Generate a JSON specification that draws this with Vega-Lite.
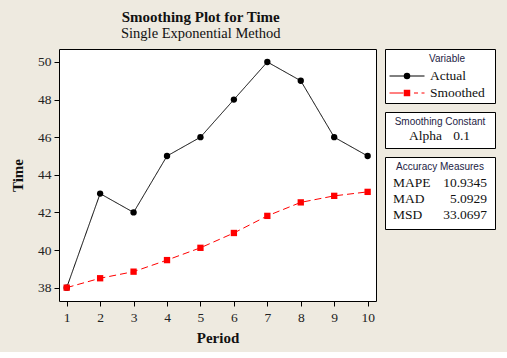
{
  "$schema": "https://vega.github.io/schema/vega-lite/v6.json",
  "background": "#EEEAE0",
  "padding": {"left": 10, "top": 10, "right": 14, "bottom": 6},
  "title": {
    "text": "Smoothing Plot for Time",
    "subtitle": "Single Exponential Method",
    "font": "Liberation Serif",
    "fontSize": 15,
    "fontWeight": "bold",
    "color": "#111111",
    "subtitleFont": "Liberation Serif",
    "subtitleFontSize": 14.5,
    "subtitleFontWeight": "normal",
    "subtitleColor": "#111111",
    "subtitlePadding": 2,
    "anchor": "middle",
    "frame": "bounds",
    "dx": -52,
    "offset": 8
  },
  "config": {
    "view": {"stroke": "black", "strokeWidth": 1, "fill": "white"},
    "axis": {
      "domain": false,
      "grid": false,
      "ticks": true,
      "tickColor": "black",
      "tickSize": 5,
      "labelFont": "Liberation Serif",
      "labelFontSize": 13.5,
      "labelColor": "#222222",
      "labelPadding": 3,
      "titleFont": "Liberation Serif",
      "titleFontSize": 15,
      "titleFontWeight": "bold",
      "titleColor": "#111111"
    }
  },
  "datasets": {
    "series": [
      {"Period": 1, "Variable": "Actual", "Time": 38},
      {"Period": 2, "Variable": "Actual", "Time": 43},
      {"Period": 3, "Variable": "Actual", "Time": 42},
      {"Period": 4, "Variable": "Actual", "Time": 45},
      {"Period": 5, "Variable": "Actual", "Time": 46},
      {"Period": 6, "Variable": "Actual", "Time": 48},
      {"Period": 7, "Variable": "Actual", "Time": 50},
      {"Period": 8, "Variable": "Actual", "Time": 49},
      {"Period": 9, "Variable": "Actual", "Time": 46},
      {"Period": 10, "Variable": "Actual", "Time": 45},
      {"Period": 1, "Variable": "Smoothed", "Time": 38.0},
      {"Period": 2, "Variable": "Smoothed", "Time": 38.5},
      {"Period": 3, "Variable": "Smoothed", "Time": 38.85},
      {"Period": 4, "Variable": "Smoothed", "Time": 39.465},
      {"Period": 5, "Variable": "Smoothed", "Time": 40.1185},
      {"Period": 6, "Variable": "Smoothed", "Time": 40.9067},
      {"Period": 7, "Variable": "Smoothed", "Time": 41.816},
      {"Period": 8, "Variable": "Smoothed", "Time": 42.5344},
      {"Period": 9, "Variable": "Smoothed", "Time": 42.881},
      {"Period": 10, "Variable": "Smoothed", "Time": 43.0929}
    ],
    "legend": [
      {"row": "Variable", "col": "title", "text": "Variable"},
      {"row": "Actual", "col": "label", "text": "Actual"},
      {"row": "Smoothed", "col": "label", "text": "Smoothed"},
      {"row": "Actual", "col": "sym", "series": "Actual"},
      {"row": "Smoothed", "col": "sym", "series": "Smoothed"}
    ],
    "smoothing": [
      {"row": "title", "col": "title", "text": "Smoothing Constant"},
      {"row": "Alpha", "col": "label", "text": "Alpha"},
      {"row": "Alpha", "col": "value", "text": "0.1"}
    ],
    "accuracy": [
      {"row": "title", "col": "title", "text": "Accuracy Measures"},
      {"row": "MAPE", "col": "label", "text": "MAPE"},
      {"row": "MAPE", "col": "value", "text": "10.9345"},
      {"row": "MAD", "col": "label", "text": "MAD"},
      {"row": "MAD", "col": "value", "text": "5.0929"},
      {"row": "MSD", "col": "label", "text": "MSD"},
      {"row": "MSD", "col": "value", "text": "33.0697"}
    ]
  },
  "spacing": 7,
  "resolve": {
    "scale": {"x": "independent", "y": "independent", "color": "independent", "shape": "independent", "strokeDash": "independent", "size": "independent", "fill": "independent", "stroke": "independent"}
  },
  "hconcat": [
    {
      "width": 317,
      "height": 252,
      "data": {"name": "series"},
      "encoding": {
        "x": {
          "field": "Period",
          "type": "quantitative",
          "scale": {"domain": [0.77, 10.25], "nice": false, "zero": false},
          "axis": {"values": [1, 2, 3, 4, 5, 6, 7, 8, 9, 10], "title": "Period", "titlePadding": 7, "labelPadding": 4}
        },
        "y": {
          "field": "Time",
          "type": "quantitative",
          "scale": {"domain": [37.29, 50.69], "nice": false, "zero": false},
          "axis": {"values": [38, 40, 42, 44, 46, 48, 50], "title": "Time", "titlePadding": 12}
        },
        "color": {
          "field": "Variable",
          "type": "nominal",
          "scale": {"domain": ["Actual", "Smoothed"], "range": ["#000000", "#FF0000"]},
          "legend": null
        }
      },
      "layer": [
        {
          "mark": {"type": "line", "strokeWidth": 1},
          "encoding": {
            "strokeDash": {
              "field": "Variable",
              "type": "nominal",
              "scale": {"domain": ["Actual", "Smoothed"], "range": [[1, 0], [7, 4]]},
              "legend": null
            }
          }
        },
        {
          "mark": {"type": "point", "filled": true, "opacity": 1, "size": 40},
          "encoding": {
            "shape": {
              "field": "Variable",
              "type": "nominal",
              "scale": {"domain": ["Actual", "Smoothed"], "range": ["circle", "square"]},
              "legend": null
            }
          }
        }
      ]
    },
    {
      "spacing": 7,
      "resolve": {
        "scale": {"x": "independent", "y": "independent", "color": "independent", "shape": "independent", "size": "independent", "fill": "independent", "stroke": "independent"}
      },
      "vconcat": [
        {
          "width": 110,
          "height": 54,
          "data": {"name": "legend"},
          "encoding": {
            "x": {"field": "col", "type": "nominal", "scale": {"type": "point", "domain": ["sym", "label", "title"], "range": [22, 62], "padding": 0}, "axis": null},
            "y": {"field": "row", "type": "nominal", "scale": {"type": "point", "domain": ["Variable", "Actual", "Smoothed"], "range": [10, 44], "padding": 0}, "axis": null}
          },
          "layer": [
            {
              "transform": [{"filter": "datum.col === 'title'"}],
              "mark": {"type": "text", "font": "Liberation Sans", "fontSize": 10, "color": "#222244", "align": "center", "baseline": "middle"},
              "encoding": {"text": {"field": "text"}}
            },
            {
              "transform": [{"filter": "datum.col === 'label'"}],
              "mark": {"type": "text", "font": "Liberation Serif", "fontSize": 13.5, "color": "#111111", "align": "left", "baseline": "middle", "dx": 3},
              "encoding": {"text": {"field": "text"}}
            },
            {
              "transform": [{"filter": "datum.col === 'sym'"}],
              "mark": {"type": "point", "filled": false, "opacity": 1, "strokeWidth": 1, "size": 1225},
              "encoding": {
                "color": {"field": "series", "type": "nominal", "scale": {"domain": ["Actual", "Smoothed"], "range": ["#000000", "#FF0000"]}, "legend": null},
                "shape": {"field": "series", "type": "nominal", "scale": {"domain": ["Actual", "Smoothed"], "range": ["M-1,0H1", "M-1,0H-0.2M0.4,0H0.63M0.83,0H1"]}, "legend": null}
              }
            },
            {
              "transform": [{"filter": "datum.col === 'sym'"}],
              "mark": {"type": "point", "filled": true, "opacity": 1, "size": 42},
              "encoding": {
                "color": {"field": "series", "type": "nominal", "scale": {"domain": ["Actual", "Smoothed"], "range": ["#000000", "#FF0000"]}, "legend": null},
                "shape": {"field": "series", "type": "nominal", "scale": {"domain": ["Actual", "Smoothed"], "range": ["circle", "square"]}, "legend": null}
              }
            }
          ],
          "resolve": {"scale": {"shape": "independent"}}
        },
        {
          "width": 110,
          "height": 36,
          "data": {"name": "smoothing"},
          "encoding": {
            "y": {"field": "row", "type": "nominal", "scale": {"type": "point", "domain": ["title", "Alpha"], "range": [10, 24], "padding": 0}, "axis": null}
          },
          "layer": [
            {
              "transform": [{"filter": "datum.col === 'title'"}],
              "mark": {"type": "text", "font": "Liberation Sans", "fontSize": 10, "color": "#222244", "align": "center", "baseline": "middle"},
              "encoding": {"text": {"field": "text"}}
            },
            {
              "transform": [{"filter": "datum.col === 'label'"}],
              "mark": {"type": "text", "font": "Liberation Serif", "fontSize": 13.5, "color": "#111111", "align": "left", "baseline": "middle"},
              "encoding": {
                "x": {"field": "col", "type": "nominal", "scale": {"type": "point", "domain": ["label", "value"], "range": [24, 85], "padding": 0}, "axis": null},
                "text": {"field": "text"}
              }
            },
            {
              "transform": [{"filter": "datum.col === 'value'"}],
              "mark": {"type": "text", "font": "Liberation Serif", "fontSize": 13.5, "color": "#111111", "align": "right", "baseline": "middle"},
              "encoding": {
                "x": {"field": "col", "type": "nominal", "scale": {"type": "point", "domain": ["label", "value"], "range": [24, 85], "padding": 0}, "axis": null},
                "text": {"field": "text"}
              }
            }
          ]
        },
        {
          "width": 110,
          "height": 72,
          "data": {"name": "accuracy"},
          "encoding": {
            "y": {"field": "row", "type": "nominal", "scale": {"type": "point", "domain": ["title", "MAPE", "MAD", "MSD"], "range": [10, 58], "padding": 0}, "axis": null}
          },
          "layer": [
            {
              "transform": [{"filter": "datum.col === 'title'"}],
              "mark": {"type": "text", "font": "Liberation Sans", "fontSize": 10, "color": "#222244", "align": "center", "baseline": "middle"},
              "encoding": {"text": {"field": "text"}}
            },
            {
              "transform": [{"filter": "datum.col === 'label'"}],
              "mark": {"type": "text", "font": "Liberation Serif", "fontSize": 13.5, "color": "#111111", "align": "left", "baseline": "middle"},
              "encoding": {
                "x": {"field": "col", "type": "nominal", "scale": {"type": "point", "domain": ["label", "value"], "range": [8, 102], "padding": 0}, "axis": null},
                "text": {"field": "text"}
              }
            },
            {
              "transform": [{"filter": "datum.col === 'value'"}],
              "mark": {"type": "text", "font": "Liberation Serif", "fontSize": 13.5, "color": "#111111", "align": "right", "baseline": "middle"},
              "encoding": {
                "x": {"field": "col", "type": "nominal", "scale": {"type": "point", "domain": ["label", "value"], "range": [8, 102], "padding": 0}, "axis": null},
                "text": {"field": "text"}
              }
            }
          ]
        }
      ]
    }
  ]
}
